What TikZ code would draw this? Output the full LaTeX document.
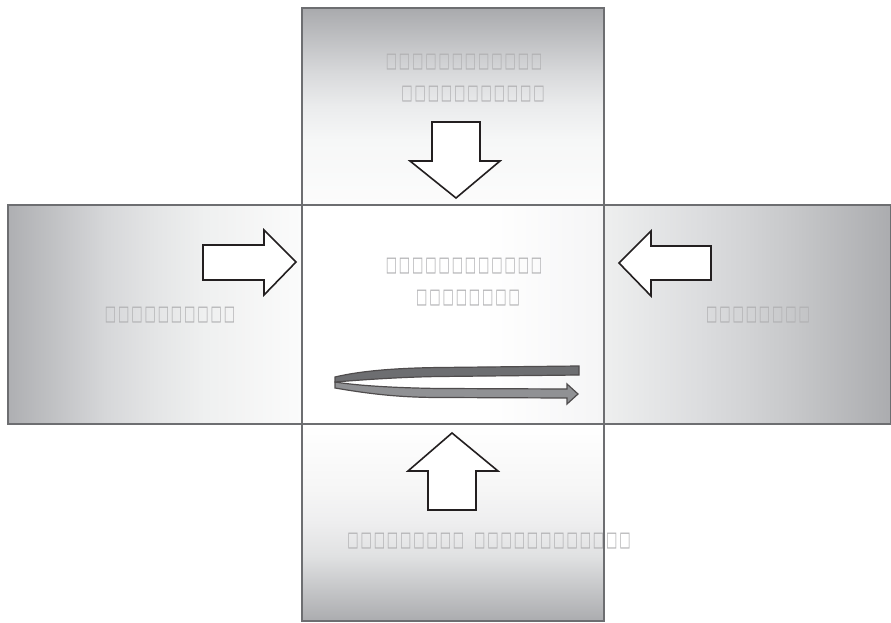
\documentclass[tikz,border=0pt]{standalone}
\usepackage{fontspec}
\usepackage{graphicx}
\newfontfamily\tofufont{DejaVu Sans}
\definecolor{bordergray}{HTML}{6D6E71}
\definecolor{tofugray}{HTML}{B0B0B2}
\definecolor{darkband}{HTML}{6D6E71}
\definecolor{lightband}{HTML}{909194}
\definecolor{arrowline}{HTML}{231F20}
\pgfdeclareverticalshading{topfade}{100bp}{color(0bp)=(rgb,255:red,252;green,252;blue,252); color(25bp)=(rgb,255:red,252;green,252;blue,252); color(41.5bp)=(rgb,255:red,246;green,247;blue,247); color(50bp)=(rgb,255:red,235;green,236;blue,237); color(58.5bp)=(rgb,255:red,216;green,217;blue,219); color(75bp)=(rgb,255:red,169;green,170;blue,173); color(100bp)=(rgb,255:red,169;green,170;blue,173)}
\pgfdeclareverticalshading{bottomfade}{100bp}{color(0bp)=(rgb,255:red,171;green,172;blue,175); color(25bp)=(rgb,255:red,171;green,172;blue,175); color(41.5bp)=(rgb,255:red,224;green,225;blue,226); color(50bp)=(rgb,255:red,238;green,238;blue,239); color(58.5bp)=(rgb,255:red,246;green,246;blue,246); color(75bp)=(rgb,255:red,255;green,255;blue,255); color(100bp)=(rgb,255:red,255;green,255;blue,255)}
\pgfdeclarehorizontalshading{leftfade}{100bp}{color(0bp)=(rgb,255:red,174;green,175;blue,178); color(25bp)=(rgb,255:red,174;green,175;blue,178); color(41.5bp)=(rgb,255:red,214;green,215;blue,217); color(50bp)=(rgb,255:red,228;green,229;blue,230); color(58.5bp)=(rgb,255:red,239;green,240;blue,240); color(75bp)=(rgb,255:red,251;green,251;blue,251); color(100bp)=(rgb,255:red,251;green,251;blue,251)}
\pgfdeclarehorizontalshading{rightfade}{100bp}{color(0bp)=(rgb,255:red,238;green,239;blue,239); color(25bp)=(rgb,255:red,238;green,239;blue,239); color(41.5bp)=(rgb,255:red,220;green,221;blue,223); color(50bp)=(rgb,255:red,210;green,211;blue,213); color(58.5bp)=(rgb,255:red,198;green,199;blue,201); color(75bp)=(rgb,255:red,171;green,172;blue,175); color(100bp)=(rgb,255:red,171;green,172;blue,175)}
\pgfdeclarehorizontalshading{centerfade}{100bp}{color(0bp)=(white); color(55bp)=(white); color(75bp)=(rgb,255:red,245;green,245;blue,246); color(100bp)=(rgb,255:red,245;green,245;blue,246)}
\newcommand\tofu{\makebox[13.2pt]{\scalebox{0.92}[1.6]{\tofufont\fontsize{13}{13}\selectfont □}}}
\newcommand\tofus[1]{\foreach \i in {1,...,#1}{\tofu}}
\tikzset{
  panel/.style={draw=bordergray, line width=1.5pt},
  blockarrow/.style={draw=arrowline, fill=white, line width=1.6pt, line join=miter},
  label/.style={text=tofugray, inner sep=0pt, anchor=center},
  band/.style={draw=arrowline!80, line width=1.2pt, line join=miter}
}
\begin{document}
\begin{tikzpicture}[x=1pt,y=-1pt]
\useasboundingbox (0,0) rectangle (891,623);
% panels (shading)
\shade[shading=topfade] (302,8) rectangle (604,205);
\shade[shading=bottomfade] (302,424) rectangle (604,621);
\shade[shading=leftfade] (8,205) rectangle (302,424);
\shade[shading=rightfade] (604,205) rectangle (891,424);
\shade[shading=centerfade] (302,205) rectangle (604,424);
% texts
\node[label] (t1) at (464,62) {\tofus{12}};
\node[label] (t2) at (473,94) {\tofus{11}};
\node[label] (c1) at (464,266) {\tofus{12}};
\node[label] (c2) at (468,298) {\tofus{8}};
\node[label] (l1) at (170,315) {\tofus{10}};
\node[label] (r1) at (758,315) {\tofus{8}};
\node[label] (b1) at (489,541) {\tofus{9}\hspace{8pt}\tofus{12}};
% borders
\draw[panel] (302,205) rectangle (604,424);
\draw[panel] (302,205) -- (302,8) -- (604,8) -- (604,205);
\draw[panel] (302,424) -- (302,621) -- (604,621) -- (604,424);
\draw[panel] (302,205) -- (8,205) -- (8,424) -- (302,424);
\draw[panel] (604,205) -- (891,205) -- (891,424) -- (604,424);
% block arrows
\draw[blockarrow] (432,122) -- (480,122) -- (480,161) -- (500,161) -- (456,198) -- (410,161) -- (432,161) -- cycle;
\draw[blockarrow] (203,245) -- (264,245) -- (264,230) -- (296,262) -- (264,295) -- (264,280) -- (203,280) -- cycle;
\draw[blockarrow] (711,246) -- (651,246) -- (651,231) -- (619,263) -- (651,296) -- (651,280) -- (711,280) -- cycle;
\draw[blockarrow] (428,510) -- (428,471) -- (408,471) -- (452,433) -- (498,471) -- (476,471) -- (476,510) -- cycle;
% U-turn arrow
\draw[band, fill=lightband]
  (335,382) -- (335,388) .. controls (370,394) and (400,397.5) .. (440,397.5) -- (567,398) -- (567,404) -- (578,394) -- (567,384) -- (567,389) -- (440,388.5) .. controls (400,388) and (360,386) .. (335,382) -- cycle;
\draw[band, fill=darkband]
  (579,366) -- (440,367.5) .. controls (395,368) and (360,371) .. (335,377) -- (335,382) .. controls (360,380) and (400,377) .. (440,376.5) -- (579,375) -- cycle;
\end{tikzpicture}
\end{document}
